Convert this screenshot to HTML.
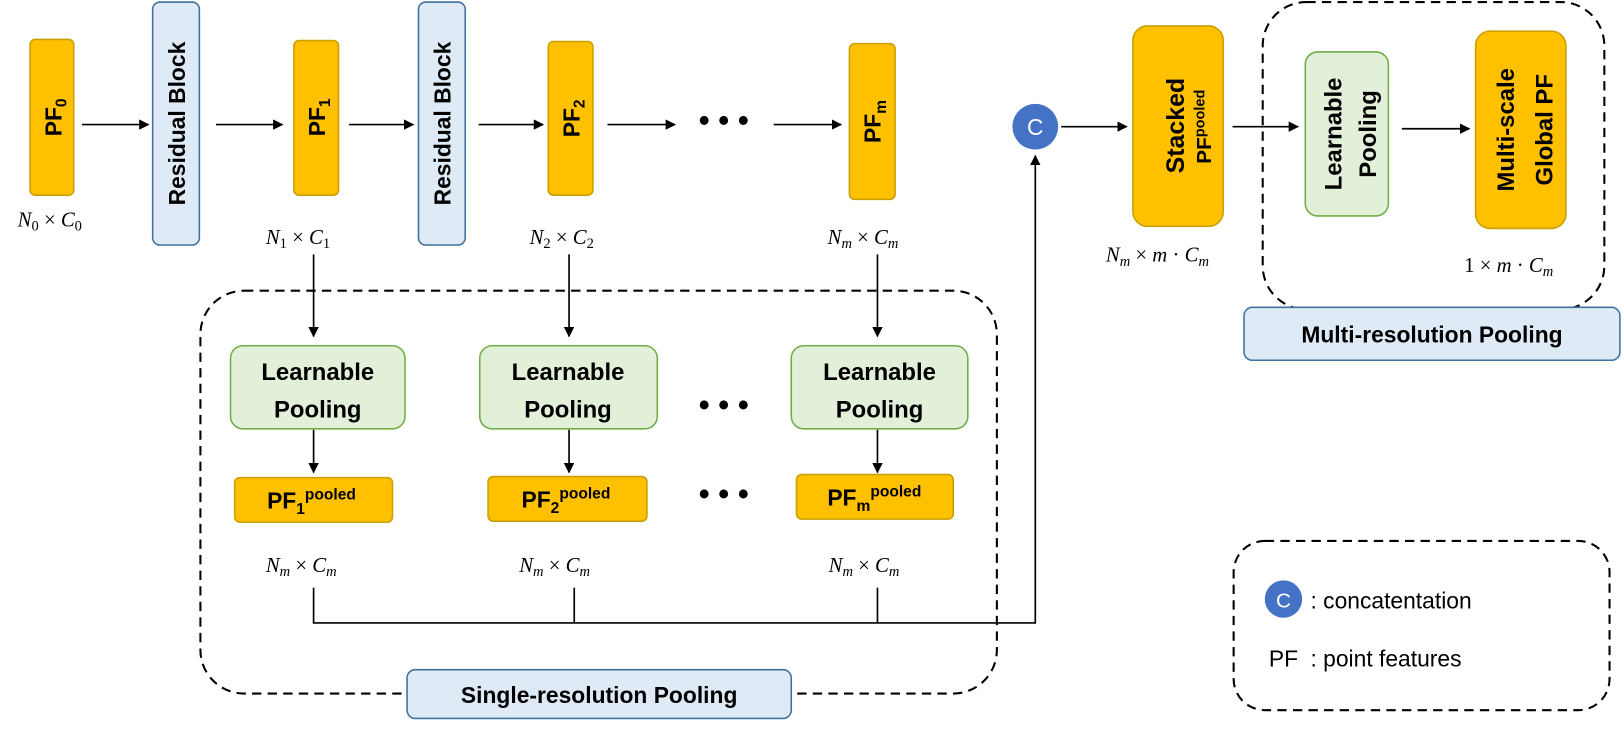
<!DOCTYPE html>
<html><head><meta charset="utf-8"><style>
html,body{margin:0;padding:0;background:#fff;}
svg{display:block;}
.b{font-family:"Liberation Sans",sans-serif;font-weight:bold;fill:#000;}
.m{font-family:"Liberation Serif",serif;font-style:italic;fill:#000;font-size:20px;}
.n{font-family:"Liberation Serif",serif;fill:#000;font-size:20px;}
.or{fill:#FFC000;stroke:#C9A000;stroke-width:1.5;}
.bl{fill:#DEEBF7;stroke:#41719C;stroke-width:1.5;}
.gr{fill:#E2F0D9;stroke:#70AD47;stroke-width:1.5;}
.ln{stroke:#000;stroke-width:1.6;fill:none;}
.ds{stroke:#000;stroke-width:2;fill:none;stroke-dasharray:9,6;}
</style></head><body>
<svg width="1622" height="733" viewBox="0 0 1562 706" preserveAspectRatio="none" xmlns="http://www.w3.org/2000/svg">
<defs><marker id="a" markerWidth="10" markerHeight="10" refX="9" refY="5" orient="auto" markerUnits="userSpaceOnUse"><path d="M0,0 L10,5 L0,10 z" fill="#000"/></marker></defs>

<rect class="ds" x="193" y="280" width="767" height="388" rx="42"/>
<rect class="ds" x="1216" y="2" width="329" height="296" rx="42"/>
<rect class="ds" x="1188" y="521" width="362" height="163" rx="30"/>

<rect class="or" x="29" y="38" width="42" height="150" rx="5"/>
<text class="b" font-size="22" transform="translate(59,113) rotate(-90)" text-anchor="middle">PF<tspan font-size="15" dy="5">0</tspan></text>
<rect class="bl" x="147" y="2" width="45" height="234" rx="7"/>
<text class="b" font-size="22" transform="translate(178,119) rotate(-90)" text-anchor="middle">Residual Block</text>
<rect class="or" x="283" y="39" width="43" height="149" rx="5"/>
<text class="b" font-size="22" transform="translate(313,113) rotate(-90)" text-anchor="middle">PF<tspan font-size="15" dy="5">1</tspan></text>
<rect class="bl" x="403" y="2" width="45" height="234" rx="7"/>
<text class="b" font-size="22" transform="translate(434,119) rotate(-90)" text-anchor="middle">Residual Block</text>
<rect class="or" x="528" y="40" width="43" height="148" rx="5"/>
<text class="b" font-size="22" transform="translate(558,114) rotate(-90)" text-anchor="middle">PF<tspan font-size="15" dy="5">2</tspan></text>
<rect class="or" x="818" y="42" width="44" height="150" rx="5"/>
<text class="b" font-size="22" transform="translate(848,117) rotate(-90)" text-anchor="middle">PF<tspan font-size="15" dy="5">m</tspan></text>
<text class="b" font-size="30" x="697" y="126" text-anchor="middle">• • •</text>

<line class="ln" x1="79" y1="120" x2="143" y2="120" marker-end="url(#a)"/>
<line class="ln" x1="208" y1="120" x2="272" y2="120" marker-end="url(#a)"/>
<line class="ln" x1="336" y1="120" x2="398" y2="120" marker-end="url(#a)"/>
<line class="ln" x1="461" y1="120" x2="523" y2="120" marker-end="url(#a)"/>
<line class="ln" x1="585" y1="120" x2="650" y2="120" marker-end="url(#a)"/>
<line class="ln" x1="745" y1="120" x2="810" y2="120" marker-end="url(#a)"/>

<text class="m" x="17" y="218">N<tspan font-size="14" dy="4" font-style="normal">0</tspan><tspan dy="-4" font-style="normal"> × </tspan>C<tspan font-size="14" dy="4" font-style="normal">0</tspan></text>
<text class="m" x="256" y="235">N<tspan font-size="14" dy="4" font-style="normal">1</tspan><tspan dy="-4" font-style="normal"> × </tspan>C<tspan font-size="14" dy="4" font-style="normal">1</tspan></text>
<text class="m" x="510" y="235">N<tspan font-size="14" dy="4" font-style="normal">2</tspan><tspan dy="-4" font-style="normal"> × </tspan>C<tspan font-size="14" dy="4" font-style="normal">2</tspan></text>
<text class="m" x="797" y="235">N<tspan font-size="14" dy="4">m</tspan><tspan dy="-4" font-style="normal"> × </tspan>C<tspan font-size="14" dy="4">m</tspan></text>

<line class="ln" x1="302" y1="245" x2="302" y2="324" marker-end="url(#a)"/>
<line class="ln" x1="548" y1="245" x2="548" y2="324" marker-end="url(#a)"/>
<line class="ln" x1="845" y1="245" x2="845" y2="324" marker-end="url(#a)"/>

<rect class="gr" x="222" y="333" width="168" height="80" rx="12"/>
<text class="b" font-size="23" x="306" y="366" text-anchor="middle">Learnable</text>
<text class="b" font-size="23" x="306" y="402" text-anchor="middle">Pooling</text>
<rect class="gr" x="462" y="333" width="171" height="80" rx="12"/>
<text class="b" font-size="23" x="547" y="366" text-anchor="middle">Learnable</text>
<text class="b" font-size="23" x="547" y="402" text-anchor="middle">Pooling</text>
<rect class="gr" x="762" y="333" width="170" height="80" rx="12"/>
<text class="b" font-size="23" x="847" y="366" text-anchor="middle">Learnable</text>
<text class="b" font-size="23" x="847" y="402" text-anchor="middle">Pooling</text>
<text class="b" font-size="30" x="697" y="400" text-anchor="middle">• • •</text>

<line class="ln" x1="302" y1="414" x2="302" y2="455" marker-end="url(#a)"/>
<line class="ln" x1="548" y1="414" x2="548" y2="455" marker-end="url(#a)"/>
<line class="ln" x1="845" y1="414" x2="845" y2="455" marker-end="url(#a)"/>

<rect class="or" x="226" y="460" width="152" height="43" rx="5"/>
<text class="b" font-size="22" x="300" y="490" text-anchor="middle">PF<tspan font-size="15" dy="5">1</tspan><tspan font-size="15" dy="-14">pooled</tspan></text>
<rect class="or" x="470" y="459" width="153" height="43" rx="5"/>
<text class="b" font-size="22" x="545" y="489" text-anchor="middle">PF<tspan font-size="15" dy="5">2</tspan><tspan font-size="15" dy="-14">pooled</tspan></text>
<rect class="or" x="767" y="457" width="151" height="43" rx="5"/>
<text class="b" font-size="22" x="842" y="487" text-anchor="middle">PF<tspan font-size="15" dy="5">m</tspan><tspan font-size="15" dy="-14">pooled</tspan></text>
<text class="b" font-size="30" x="697" y="486" text-anchor="middle">• • •</text>

<text class="m" x="256" y="551">N<tspan font-size="14" dy="4">m</tspan><tspan dy="-4" font-style="normal"> × </tspan>C<tspan font-size="14" dy="4">m</tspan></text>
<text class="m" x="500" y="551">N<tspan font-size="14" dy="4">m</tspan><tspan dy="-4" font-style="normal"> × </tspan>C<tspan font-size="14" dy="4">m</tspan></text>
<text class="m" x="798" y="551">N<tspan font-size="14" dy="4">m</tspan><tspan dy="-4" font-style="normal"> × </tspan>C<tspan font-size="14" dy="4">m</tspan></text>

<polyline class="ln" points="302,566 302,600 997,600 997,150" marker-end="url(#a)"/>
<line class="ln" x1="553" y1="566" x2="553" y2="600"/>
<line class="ln" x1="845" y1="566" x2="845" y2="600"/>

<rect class="bl" x="392" y="645" width="370" height="47" rx="8"/>
<text class="b" font-size="22" x="577" y="677" text-anchor="middle">Single-resolution Pooling</text>

<circle cx="997" cy="122" r="22" fill="#4472C4"/>
<text x="997" y="130" font-family="Liberation Sans,sans-serif" font-size="22" fill="#fff" text-anchor="middle">C</text>
<line class="ln" x1="1022" y1="122" x2="1085" y2="122" marker-end="url(#a)"/>
<rect class="or" x="1091" y="25" width="87" height="193" rx="14"/>
<text class="b" font-size="24" transform="translate(1140,121) rotate(-90)" text-anchor="middle">Stacked</text>
<text class="b" font-size="20" transform="translate(1166,122) rotate(-90)" text-anchor="middle">PF<tspan font-size="14" dy="-6">pooled</tspan></text>
<line class="ln" x1="1187" y1="122" x2="1250" y2="122" marker-end="url(#a)"/>
<rect class="gr" x="1257" y="50" width="80" height="158" rx="12"/>
<text class="b" font-size="23" transform="translate(1292,129) rotate(-90)" text-anchor="middle">Learnable</text>
<text class="b" font-size="23" transform="translate(1325,129) rotate(-90)" text-anchor="middle">Pooling</text>
<line class="ln" x1="1350" y1="124" x2="1415" y2="124" marker-end="url(#a)"/>
<rect class="or" x="1421" y="30" width="87" height="190" rx="14"/>
<text class="b" font-size="23" transform="translate(1458,125) rotate(-90)" text-anchor="middle">Multi-scale</text>
<text class="b" font-size="23" transform="translate(1495,125) rotate(-90)" text-anchor="middle">Global PF</text>

<text class="m" x="1065" y="252">N<tspan font-size="14" dy="4">m</tspan><tspan dy="-4" font-style="normal"> × </tspan>m<tspan font-style="normal"> · </tspan>C<tspan font-size="14" dy="4">m</tspan></text>
<text class="n" x="1410" y="262">1 × <tspan font-style="italic">m</tspan> · <tspan font-style="italic">C</tspan><tspan font-size="14" dy="4" font-style="italic">m</tspan></text>

<rect class="bl" x="1198" y="296" width="362" height="51" rx="8"/>
<text class="b" font-size="22" x="1379" y="330" text-anchor="middle">Multi-resolution Pooling</text>

<circle cx="1236" cy="577" r="18" fill="#4472C4"/>
<text x="1236" y="585" font-family="Liberation Sans,sans-serif" font-size="20" fill="#fff" text-anchor="middle">C</text>
<text x="1262" y="586" font-family="Liberation Sans,sans-serif" font-size="22" fill="#000">: concatentation</text>
<text x="1222" y="642" font-family="Liberation Sans,sans-serif" font-size="22" fill="#000">PF</text>
<text x="1262" y="642" font-family="Liberation Sans,sans-serif" font-size="22" fill="#000">: point features</text>
</svg>
</body></html>
